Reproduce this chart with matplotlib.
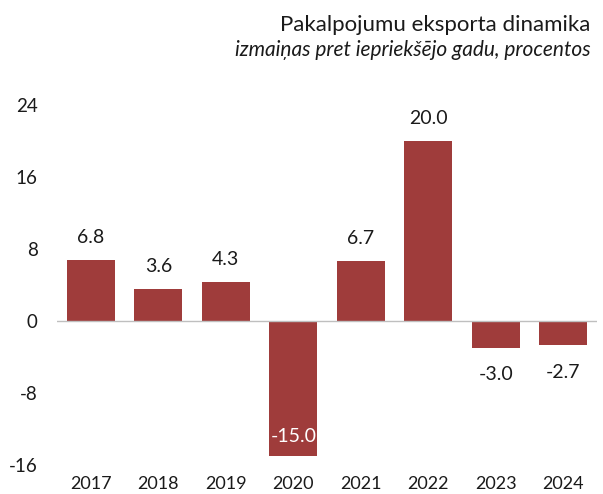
import numpy as np
import matplotlib.pyplot as plt

plt.rcParams['font.family'] = ['Lato', 'DejaVu Sans']

# dati
years = ['2017', '2018', '2019', '2020', '2021', '2022', '2023', '2024']
values = [6.8, 3.6, 4.3, -15.0, 6.7, 20.0, -3.0, -2.7]
yticks = [-16, -8, 0, 8, 16, 24]

bar_color = '#9F3C3B'

fig = plt.figure(figsize=(6.03, 4.94), dpi=100)
ax = fig.add_axes([57 / 603, 1 - 465 / 494, 540 / 603, 360 / 494])

x = np.arange(len(years))
ax.bar(x, values, width=0.71, color=bar_color, zorder=2)
ax.axhline(0, color='#bfbfbf', linewidth=1, zorder=3)

# vērtību etiķetes
for xi, v in zip(x, values):
    if v >= 0:
        ax.text(xi, v + 2.5, f'{v:.1f}', ha='center', va='center', fontsize=14, color='#1a1a1a')
    elif v < -10:
        ax.text(xi, v + 2.2, f'{v:.1f}', ha='center', va='center', fontsize=14, color='white')
    else:
        ax.text(xi, v - 3.0, f'{v:.1f}', ha='center', va='center', fontsize=14, color='#1a1a1a')

ax.set_xlim(-0.5, 7.5)
ax.set_ylim(-16, 24)
ax.set_yticks(yticks)
ax.set_yticklabels([str(t) for t in yticks])
ax.set_xticks(x)
ax.set_xticklabels(years)
ax.tick_params(axis='y', length=0, pad=14, labelsize=13.5, colors='#1a1a1a')
ax.tick_params(axis='x', length=0, pad=8, labelsize=13, colors='#1a1a1a')
for s in ax.spines.values():
    s.set_visible(False)

fig.text(590 / 603, 1 - 31 / 494, 'Pakalpojumu eksporta dinamika', ha='right', va='baseline',
         fontsize=16, color='#1a1a1a')
fig.text(591 / 603, 1 - 56 / 494, 'izmaiņas pret iepriekšējo gadu, procentos', ha='right', va='baseline',
         fontsize=15, style='italic', color='#1a1a1a')

fig.savefig('out.png', dpi=100)
